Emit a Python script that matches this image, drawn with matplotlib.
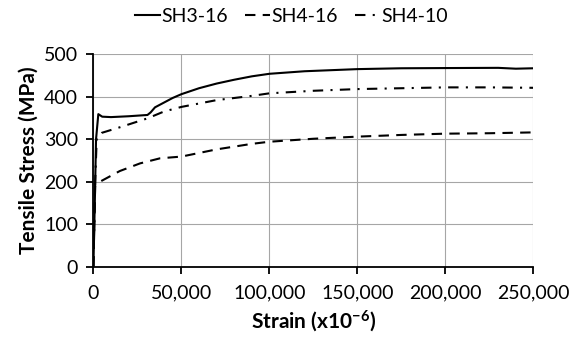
import matplotlib
matplotlib.use("Agg")
import matplotlib.pyplot as plt
from matplotlib.ticker import FuncFormatter

plt.rcParams["font.family"] = ["Lato", "DejaVu Sans"]
plt.rcParams["mathtext.fontset"] = "custom"
plt.rcParams["mathtext.rm"] = "Lato:bold"
plt.rcParams["mathtext.default"] = "rm"

# strain (x10^-6) and stress (MPa)
sh3_16_x = [0, 800, 1500, 2800, 5000, 10000, 20000, 30700, 32500, 35000, 40000,
            45000, 50000, 60000, 70000, 80000, 90000, 100000, 120000, 150000,
            175000, 200000, 230000, 240000, 250000]
sh3_16_y = [0, 150, 300, 359, 353, 352, 354, 357, 363, 375, 386,
            397, 406, 420, 431, 440, 448, 454, 460, 465,
            467, 467.5, 468, 466, 467]

sh4_16_x = [0, 1000, 3800, 15000, 26500, 37900, 50000, 70000, 90000, 100000,
            125000, 150000, 175000, 200000, 225000, 250000]
sh4_16_y = [0, 190, 200, 225, 243, 255, 259, 276, 289, 294,
            301, 306, 310, 313, 314, 316]

sh4_10_x = [0, 1000, 1900, 4800, 15000, 30700, 40000, 50000, 70000, 90000,
            100000, 125000, 150000, 175000, 200000, 225000, 250000]
sh4_10_y = [0, 200, 302, 315, 328, 349, 365, 376, 392, 402,
            408, 414, 418, 420, 422, 422, 421]

x_ticks = [0, 50000, 100000, 150000, 200000, 250000]
y_ticks = [0, 100, 200, 300, 400, 500]

fig = plt.figure(figsize=(5.73, 3.37), dpi=100)
ax = fig.add_axes([0.163, 0.209, 0.768, 0.63])

lw = 1.5
ax.plot(sh3_16_x, sh3_16_y, color="black", lw=lw, label="SH3-16")
ax.plot(sh4_16_x, sh4_16_y, color="black", lw=lw, dashes=(5, 3.5), label="SH4-16")
ax.plot(sh4_10_x, sh4_10_y, color="black", lw=lw, dashes=(5, 3.5, 1, 3.5), label="SH4-10")

ax.set_xlim(0, 250000)
ax.set_ylim(0, 500)
ax.set_xticks(x_ticks)
ax.set_yticks(y_ticks)
ax.xaxis.set_major_formatter(FuncFormatter(lambda v, p: f"{int(v):,}"))
ax.grid(True, color="#a6a6a6", lw=0.8)
ax.set_axisbelow(True)

for side in ("top", "right"):
    ax.spines[side].set_visible(False)
ax.spines["left"].set_linewidth(1.3)
ax.spines["bottom"].set_linewidth(1.3)
ax.tick_params(axis="both", direction="out", length=5, width=1.3, labelsize=14, colors="black")
ax.tick_params(axis="x", pad=8)
ax.tick_params(axis="y", pad=6)

ax.set_xlabel("Strain (x10$^{-6}$)", fontsize=15, fontweight="bold", labelpad=5)
ax.set_ylabel("Tensile Stress (MPa)", fontsize=15, fontweight="bold", labelpad=4)

ax.legend(loc="lower center", bbox_to_anchor=(0.45, 1.1), ncol=3, frameon=False,
          fontsize=14, handlelength=1.3, handletextpad=0.05, columnspacing=0.9,
          borderaxespad=0)

fig.savefig("out.png", dpi=100)
